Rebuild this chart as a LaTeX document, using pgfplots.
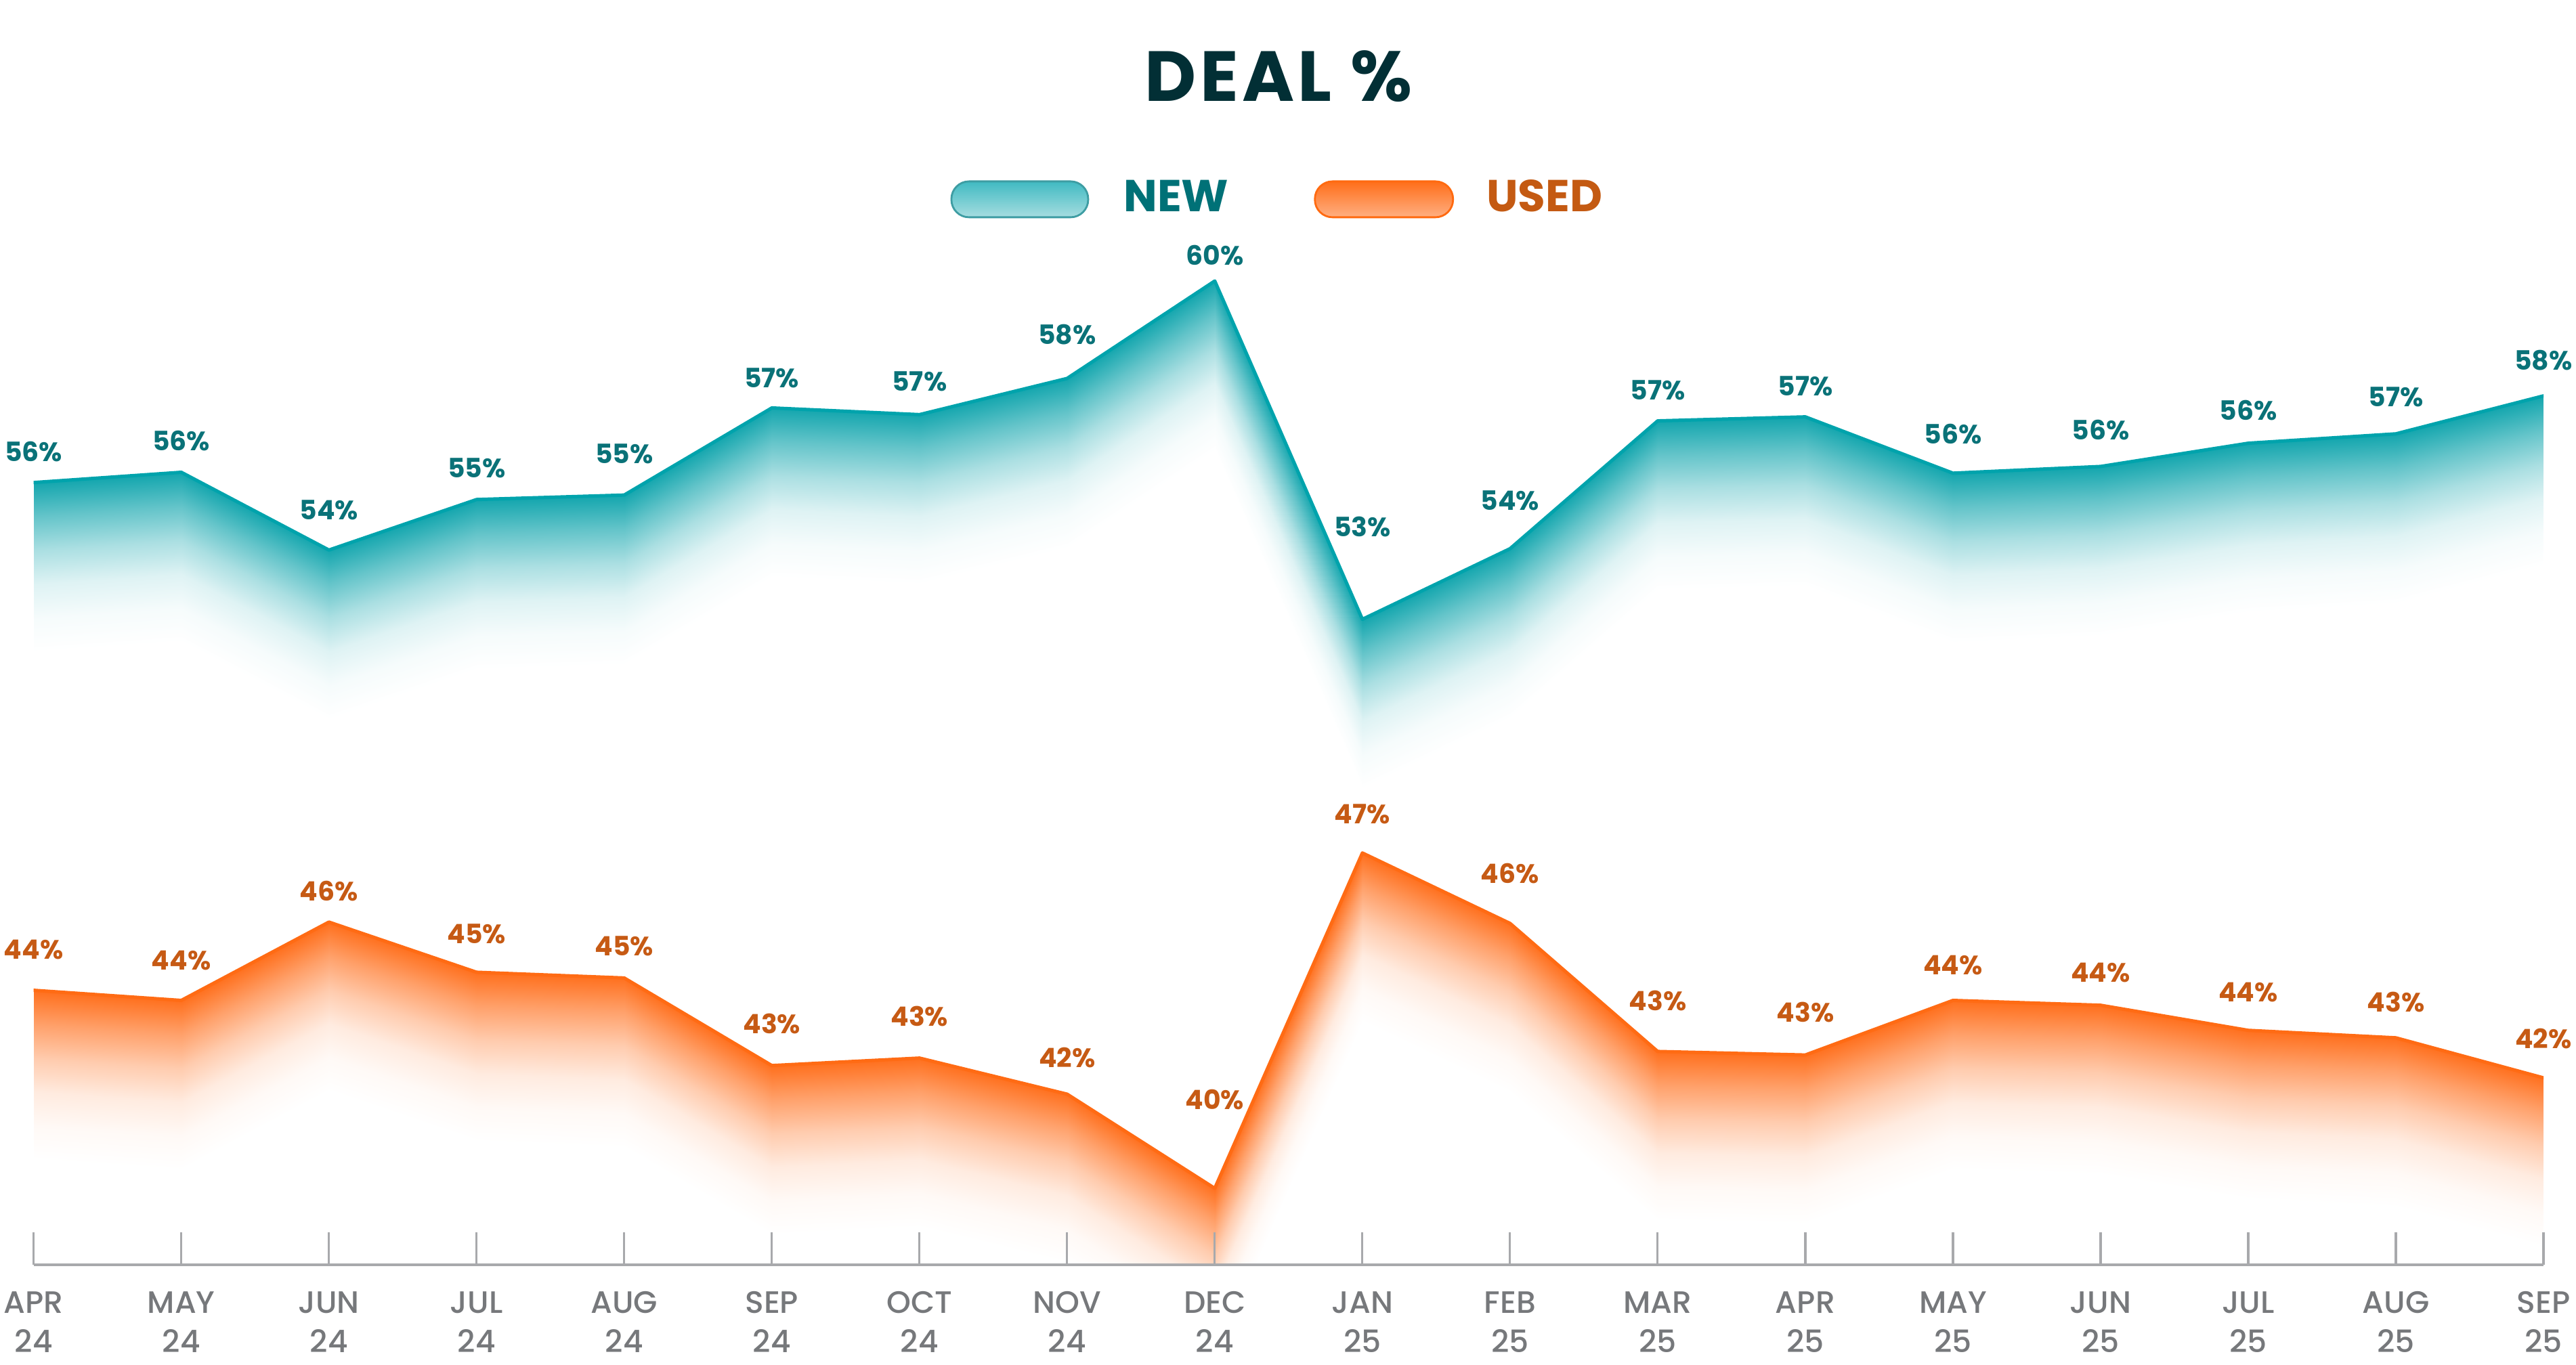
\documentclass[border=0pt]{standalone}
\usepackage{pgfplots}
\usepackage{pgfplotstable}
\pgfplotsset{compat=1.18}
\usepackage{fontspec}
\setmainfont{Poppins}
\newfontfamily\tickfont{Poppins Medium}

\definecolor{titlecol}{RGB}{2,47,53}
\definecolor{newline}{RGB}{0,163,172}
\definecolor{newfill}{RGB}{20,166,174}
\definecolor{newlab}{RGB}{10,114,120}
\definecolor{newleg}{RGB}{0,113,119}
\definecolor{newswtop}{RGB}{64,186,194}
\definecolor{newswbot}{RGB}{166,221,224}
\definecolor{newswedge}{RGB}{62,157,163}
\definecolor{usedline}{RGB}{255,107,20}
\definecolor{usedfill}{RGB}{255,112,30}
\definecolor{usedlab}{RGB}{198,90,20}
\definecolor{usedleg}{RGB}{196,90,18}
\definecolor{usedswtop}{RGB}{255,110,25}
\definecolor{usedswbot}{RGB}{255,175,130}
\definecolor{usedswedge}{RGB}{255,106,16}
\definecolor{tickgray}{RGB}{118,120,123}
\definecolor{axisgray}{RGB}{168,169,172}

% dy = label baseline above the point (reference pixels)
\pgfplotstableread{
x new nlab ndy used ulab udy
0 55.58 56 28.5 44.46 44 43
1 55.81 56 29 44.23 44 42
2 54.07 54 42 46.01 46 28.6
3 55.20 55 29.5 44.87 45 39.7
4 55.30 55 43.5 44.74 45 29.6
5 57.25 57 27 42.75 43 44.5
6 57.10 57 32 42.92 43 44
7 57.91 58 47.5 42.10 42 37
8 60.09 60 21 39.96 40 114
9 52.52 53 119 47.58 47 40
10 54.10 54 53.6 45.98 46 56
11 56.96 57 28.5 43.07 43 57
12 57.05 57 28.5 42.99 43 46
13 55.79 56 40 44.23 44 35
14 55.94 56 36 44.12 44 31
15 56.46 56 31.5 43.55 44 39
16 56.67 57 37.5 43.38 43 35
17 57.52 58 35 42.47 42 40
}\deal
% two copies: top row at the line, bottom row shifted down for the fade
\pgfplotstablevertcat{\band}{\deal}
\pgfplotstablevertcat{\band}{\deal}

\begin{document}
\begin{tikzpicture}
\pgfplotsset{
  chart/.style={scale only axis, width=185.315mm, height=78.4mm,
    xmin=0, xmax=17, enlarge x limits=false, point meta min=0, point meta max=1},
  labels/.style={every node near coord/.append style={anchor=south, inner sep=0pt,
    yshift=\dy*0.05mm, font=\bfseries\fontsize{5.6}{6}\selectfont, text=#1}},
}
% NEW
\begin{axis}[chart, ymin=38.076, ymax=61.833, axis lines=none, xtick=\empty, ytick=\empty,
  title={DEAL \%},
  title style={at={(0.4960,1.0957)}, anchor=base, yshift=-6pt, inner sep=0pt, text=titlecol,
    font=\bfseries\fontsize{14.9}{16}\selectfont\addfontfeatures{LetterSpace=5}},
  colormap={newfade}{color(0cm)=(white); color(0.2cm)=(newfill!4!white);
    color(0.4cm)=(newfill!14!white); color(0.6cm)=(newfill!36!white);
    color(0.8cm)=(newfill!66!white); color(1cm)=(newfill)},
  legend columns=2,
  legend style={at={(0.3649,0.9843)}, anchor=south west, draw=none, fill=none,
    inner sep=0pt, column sep=0pt,
    nodes={inner sep=0pt, font=\bfseries\fontsize{9.4}{11}\selectfont},
    /tikz/every even column/.append style={column sep=6.3mm}},
  legend cell align=left]
\addplot[surf, shader=interp, mesh/cols=18, point meta=explicit, forget plot]
  table[x=x, y expr={\thisrow{new}-(\coordindex>17)*3.8}, meta expr={(\coordindex<18)}] {\band};
\addplot[newline, line width=0.71pt, line join=round, line cap=round, forget plot,
  point meta=explicit symbolic, nodes near coords={\pgfplotspointmeta\%},
  visualization depends on={\thisrow{ndy} \as \dy}, labels=newlab]
  table[x=x, y=new, meta=nlab] {\deal};
\addlegendimage{legend image code/.code={
  \draw[draw=newswedge, line width=0.4pt, top color=newswtop, bottom color=newswbot,
    rounded corners=1.3mm] (0mm,-1.325mm) rectangle (10.1mm,1.325mm);}}
\addlegendimage{legend image code/.code={
  \draw[draw=usedswedge, line width=0.4pt, top color=usedswtop, bottom color=usedswbot,
    rounded corners=1.3mm] (0mm,-1.325mm) rectangle (10.2mm,1.325mm);}}
\legend{\hspace*{2.55mm}\textcolor{newleg}{NEW}, \hspace*{2.4mm}\textcolor{usedleg}{USED}}
\end{axis}
% USED, with the month axis
\begin{axis}[chart, ymin=38.223, ymax=62.346, axis on top,
  axis x line=bottom, axis y line=none, ytick=\empty,
  axis line style={-, draw=axisgray, line width=0.6pt},
  xtick={0,...,17},
  xticklabels={APR\\24,MAY\\24,JUN\\24,JUL\\24,AUG\\24,SEP\\24,OCT\\24,NOV\\24,DEC\\24,
    JAN\\25,FEB\\25,MAR\\25,APR\\25,MAY\\25,JUN\\25,JUL\\25,AUG\\25,SEP\\25},
  xtick align=inside, major tick length=2.4mm,
  xtick style={draw=axisgray, line width=0.45pt},
  xticklabel style={align=center, anchor=base, yshift=-6.5mm, inner sep=0pt, text=tickgray,
    font=\tickfont\fontsize{6.5}{8.25}\selectfont},
  colormap={usedfade}{color(0cm)=(white); color(0.2cm)=(usedfill!4!white);
    color(0.4cm)=(usedfill!14!white); color(0.6cm)=(usedfill!36!white);
    color(0.8cm)=(usedfill!66!white); color(1cm)=(usedfill)}]
\addplot[surf, shader=interp, mesh/cols=18, point meta=explicit, forget plot]
  table[x=x, y expr={\thisrow{used}-(\coordindex>17)*3.85}, meta expr={(\coordindex<18)}] {\band};
\addplot[usedline, line width=0.71pt, line join=round, line cap=round, forget plot,
  point meta=explicit symbolic, nodes near coords={\pgfplotspointmeta\%},
  visualization depends on={\thisrow{udy} \as \dy}, labels=usedlab]
  table[x=x, y=used, meta=ulab] {\deal};
\end{axis}
\pgfresetboundingbox
\path[use as bounding box] (-2.485mm,-7.4mm) rectangle (187.715mm,93.4mm);
\end{tikzpicture}
\end{document}
